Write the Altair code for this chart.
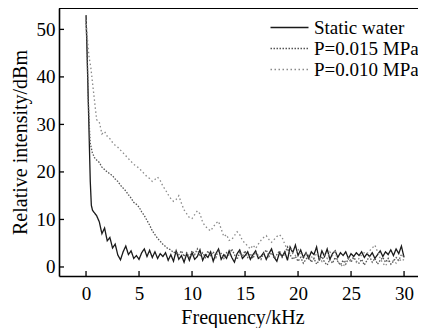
import altair as alt
import pandas as pd

# ---------------- data ----------------
series_names = ["Static water", "P=0.015 MPa", "P=0.010 MPa"]

tail_grid = [round(1.0 + 0.25 * i, 2) for i in range(117)]  # 1.0 ... 30.0 kHz

water_x_head = [0.0, 0.1, 0.2, 0.3, 0.4, 0.5, 0.6, 0.75]
water_y_head = [53.0, 45.0, 36.0, 27.0, 18.0, 13.0, 12.0, 11.5]
water_y_tail = [10.8, 9.5, 7.0, 8.2, 5.5, 6.2, 4.0, 4.8, 2.5, 1.5, 3.2, 4.4, 2.6, 3.4, 1.8, 2.4,
                1.6, 3.0, 3.8, 2.2, 3.5, 2.0, 3.2, 1.8, 2.8, 2.2, 3.0, 1.4, 2.6, 1.2, 3.4, 1.6,
                2.4, 1.0, 2.8, 1.4, 3.0, 1.6, 2.2, 3.6, 1.4, 2.6, 2.0, 3.2, 1.2, 2.8, 3.8, 1.6,
                2.6, 1.8, 3.4, 2.0, 1.0, 2.8, 3.6, 1.8, 2.4, 3.2, 1.6, 2.6, 3.4, 1.8, 2.2, 3.0,
                1.6, 2.8, 3.8, 2.0, 1.2, 3.0, 2.2, 3.2, 1.4, 4.2, 3.0, 4.6, 2.4, 3.6, 2.0, 3.0,
                1.8, 3.2, 2.6, 4.2, 1.4, 3.4, 2.2, 3.8, 1.6, 2.8, 3.4, 2.0, 3.0, 2.4, 3.2, 1.8,
                2.8, 2.2, 3.0, 2.4, 3.2, 2.0, 2.8, 2.2, 3.0, 1.8, 2.6, 3.4, 2.2, 3.2, 2.6, 3.6,
                2.4, 3.8, 2.8, 4.4, 2.0]

p015_x_head = [0.0, 0.1, 0.2, 0.3, 0.4, 0.6, 0.8]
p015_y_head = [52.0, 46.0, 36.0, 30.0, 26.0, 24.0, 23.0]
p015_y_tail = [22.5, 22.0, 21.0, 20.5, 20.0, 19.6, 19.2, 18.5, 18.0, 17.2, 16.6, 16.0, 15.2, 14.5,
               13.6, 13.2, 12.6, 11.6, 10.8, 9.8, 8.8, 7.6, 6.8, 6.0, 5.4, 4.8, 4.3, 3.8, 3.6,
               3.0, 3.2, 2.6, 3.4, 2.2, 3.0, 2.0, 3.4, 2.6, 3.8, 2.2, 3.0, 2.0, 3.4, 2.4, 3.2,
               2.0, 3.6, 2.8, 1.8, 3.0, 2.4, 3.8, 2.6, 1.6, 3.0, 2.2, 3.4, 2.0, 2.8, 1.8, 3.2,
               2.4, 1.6, 2.8, 3.6, 2.2, 3.0, 1.8, 2.6, 3.4, 2.0, 2.8, 4.2, 2.6, 1.6, 2.2, 1.2,
               2.0, 0.8, 1.6, 2.4, 1.0, 1.8, 0.6, 1.4, 2.2, 1.0, 0.4, 1.6, 0.8, 2.0, 1.2, 0.4,
               1.4, 0.6, 1.8, 1.0, 2.0, 1.2, 0.8, 1.6, 0.4, 1.4, 2.2, 1.0, 1.8, 0.6, 1.4, 2.0,
               1.0, 1.8, 0.6, 1.2, 2.0, 1.4, 2.6, 2.2]

p010_x_head = [0.0, 0.1, 0.2, 0.3, 0.45, 0.6, 0.8]
p010_y_head = [52.0, 49.0, 46.0, 44.0, 42.0, 39.0, 35.0]
p010_y_tail = [31.0, 30.5, 28.0, 28.5, 27.5, 27.0, 26.2, 25.6, 25.2, 24.6, 24.0, 23.4, 22.8, 22.2,
               21.6, 21.2, 20.8, 20.2, 19.6, 19.0, 18.6, 18.0, 18.4, 18.9, 18.2, 17.0, 16.2,
               15.2, 14.4, 13.8, 14.2, 15.0, 13.4, 12.0, 11.2, 10.4, 10.2, 11.0, 11.8, 11.2,
               9.4, 8.6, 8.0, 7.6, 8.4, 9.2, 9.6, 8.0, 6.4, 6.8, 5.6, 5.8, 6.6, 7.4, 6.8, 5.6,
               5.0, 4.4, 3.8, 4.6, 3.9, 4.8, 5.6, 6.2, 6.6, 5.8, 5.2, 5.8, 6.4, 6.8, 6.2, 4.8,
               3.6, 4.4, 3.0, 2.4, 3.8, 2.6, 1.8, 2.8, 1.4, 2.2, 1.6, 3.0, 2.0, 1.2, 2.6, 1.8,
               3.2, 2.4, 3.6, 1.0, 0.6, 0.0, 1.2, 2.0, 1.4, 2.2, 1.0, 1.8, 2.6, 3.0, 2.8, 3.4,
               4.0, 4.6, 3.2, 1.8, 0.8, 0.2, 1.2, 0.6, 1.4, 0.8, 1.8, 1.2, 1.6]

x_ticks = [0, 5, 10, 15, 20, 25, 30]
y_ticks = [0, 10, 20, 30, 40, 50]

# ---------------- table ----------------
rows = []
for name, xh, yh, yt in [
    (series_names[0], water_x_head, water_y_head, water_y_tail),
    (series_names[1], p015_x_head, p015_y_head, p015_y_tail),
    (series_names[2], p010_x_head, p010_y_head, p010_y_tail),
]:
    xs = xh + tail_grid
    ys = yh + yt
    for i, (a, b) in enumerate(zip(xs, ys)):
        rows.append({"series": name, "f": a, "v": b, "o": i})
df = pd.DataFrame(rows)

FONT = "Liberation Serif"
W, H = 367, 268
XD = [-2.55, 32.07]
YD = [-1.9, 54.5]

xscale = alt.Scale(domain=XD, nice=False, zero=False)
yscale = alt.Scale(domain=YD, nice=False, zero=False)

lines = alt.Chart(df).mark_line(strokeWidth=1.3, clip=True).encode(
    x=alt.X("f:Q", scale=xscale,
            axis=alt.Axis(values=x_ticks, title="Frequency/kHz", grid=False, tickSize=0,
                          labelPadding=8, titlePadding=4, domainWidth=1.6, domainColor="black",
                          labelColor="black", titleColor="black", labelFontSize=19,
                          titleFontSize=20, labelFont=FONT, titleFont=FONT,
                          titleFontWeight="normal")),
    y=alt.Y("v:Q", scale=yscale,
            axis=alt.Axis(values=y_ticks, title="Relative intensity/dBm", grid=False, tickSize=0,
                          labelPadding=4, titlePadding=6, domainWidth=1.6, domainColor="black",
                          labelColor="black", titleColor="black", labelFontSize=19,
                          titleFontSize=20, labelFont=FONT, titleFont=FONT,
                          titleFontWeight="normal")),
    order="o:Q",
    color=alt.Color("series:N", sort=series_names,
                    scale=alt.Scale(domain=series_names, range=["#1a1a1a", "#555555", "#8a8a8a"]),
                    legend=alt.Legend(title=None, orient="none", legendX=220, legendY=9,
                                      symbolType="M-2,0H2", symbolSize=361,
                                      symbolStrokeWidth=1.4,
                                      labelFont=FONT, labelFontSize=19, labelColor="black",
                                      labelOffset=14, rowPadding=-2, labelLimit=300)),
    strokeDash=alt.StrokeDash("series:N", sort=series_names,
                              scale=alt.Scale(domain=series_names,
                                              range=[[1, 0], [1.5, 1.5], [1.5, 2.5]]),
                              legend=None),
)

top_line = alt.Chart(pd.DataFrame({"v": [YD[1]]})).mark_rule(
    color="black", strokeWidth=2.2).encode(y=alt.Y("v:Q", scale=yscale))

xt = alt.Chart(pd.DataFrame({"f": x_ticks})).mark_rule(color="black", strokeWidth=1.3).encode(
    x=alt.X("f:Q", scale=xscale), y=alt.value(H), y2=alt.value(H - 5))
yt = alt.Chart(pd.DataFrame({"v": y_ticks})).mark_rule(color="black", strokeWidth=1.3).encode(
    y=alt.Y("v:Q", scale=yscale), x=alt.value(0), x2=alt.value(5))

chart = alt.layer(lines, top_line, xt, yt).properties(
    width=W, height=H,
    autosize=alt.AutoSizeParams(type="none"),
    padding={"left": 51, "top": 0, "right": -8, "bottom": 52},
).configure_view(stroke=None).configure(background="white")

chart.save("out.html", embed_options={"renderer": "svg", "actions": False})
